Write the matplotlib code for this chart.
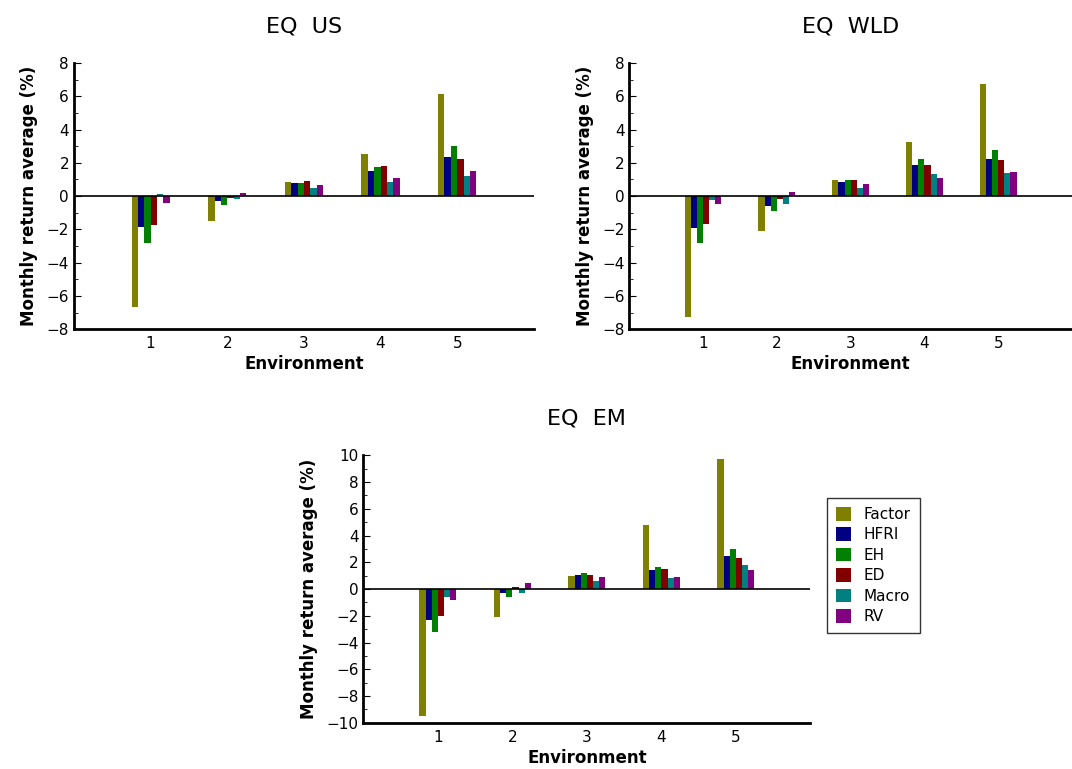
import matplotlib
matplotlib.use("Agg")
import matplotlib.pyplot as plt
import numpy as np

# Dados
ambientes = [1, 2, 3, 4, 5]
series = ["Factor", "HFRI", "EH", "ED", "Macro", "RV"]
cores = ["#808000", "#000080", "#008000", "#800000", "#008080", "#800080"]

us_factor = [-6.68, -1.52, 0.86, 2.54, 6.14]
us_hfri = [-1.88, -0.32, 0.78, 1.52, 2.34]
us_eh = [-2.84, -0.56, 0.80, 1.76, 3.02]
us_ed = [-1.76, -0.14, 0.92, 1.82, 2.24]
us_macro = [0.14, -0.16, 0.50, 0.82, 1.18]
us_rv = [-0.44, 0.20, 0.68, 1.06, 1.52]

wld_factor = [-7.28, -2.12, 0.94, 3.26, 6.76]
wld_hfri = [-1.94, -0.58, 0.86, 1.84, 2.24]
wld_eh = [-2.84, -0.92, 0.96, 2.22, 2.78]
wld_ed = [-1.70, -0.20, 0.94, 1.88, 2.16]
wld_macro = [-0.26, -0.48, 0.50, 1.32, 1.40]
wld_rv = [-0.48, 0.26, 0.74, 1.10, 1.46]

em_factor = [-9.47, -2.06, 0.98, 4.79, 9.70]
em_hfri = [-2.31, -0.33, 1.05, 1.43, 2.46]
em_eh = [-3.21, -0.60, 1.20, 1.65, 3.00]
em_ed = [-2.00, 0.18, 1.05, 1.50, 2.33]
em_macro = [-0.60, -0.28, 0.60, 0.85, 1.80]
em_rv = [-0.80, 0.45, 0.90, 0.90, 1.43]

paineis = [
    ("EQ  US", [us_factor, us_hfri, us_eh, us_ed, us_macro, us_rv], 8, [0.069, 0.572, 0.429, 0.346]),
    ("EQ  WLD", [wld_factor, wld_hfri, wld_eh, wld_ed, wld_macro, wld_rv], 8, [0.587, 0.572, 0.413, 0.346]),
    ("EQ  EM", [em_factor, em_hfri, em_eh, em_ed, em_macro, em_rv], 10, [0.339, 0.060, 0.417, 0.348]),
]

fig = plt.figure(figsize=(10.72, 7.69), dpi=100)
largura = 0.083
x = np.array(ambientes)

for titulo, valores, lim, pos in paineis:
    ax = fig.add_axes(pos)
    for i, (nome, vals) in enumerate(zip(series, valores)):
        ax.bar(x + (i - 2.5) * largura, vals, width=largura, color=cores[i],
               label=nome, zorder=2)
    ax.axhline(0, color="black", linewidth=1.2, zorder=3)
    ax.set_xlim(0, 6)
    ax.set_ylim(-lim, lim)
    ax.set_xticks(ambientes)
    ax.set_yticks(np.arange(-lim, lim + 1, 2))
    ax.set_yticks(np.arange(-lim, lim + 1, 1), minor=True)
    ax.tick_params(axis="x", length=0, labelsize=11, pad=5)
    ax.tick_params(axis="y", which="major", direction="in", length=5, labelsize=11)
    ax.tick_params(axis="y", which="minor", direction="in", length=3)
    for lado in ["top", "right"]:
        ax.spines[lado].set_visible(False)
    ax.spines["left"].set_linewidth(2)
    ax.spines["bottom"].set_linewidth(2)
    ax.set_xlabel("Environment", fontsize=12, fontweight="bold", labelpad=3)
    ax.set_ylabel("Monthly return average (%)", fontsize=12, fontweight="bold", labelpad=6)
    ax.set_title(titulo, fontsize=16, pad=22)
    if titulo == "EQ  EM":
        leg = ax.legend(loc="upper left", bbox_to_anchor=(1.02, 0.87), fontsize=11,
                        frameon=True, fancybox=False, edgecolor="black",
                        handlelength=1.0, handleheight=1.0, labelspacing=0.35,
                        borderpad=0.6)
        leg.get_frame().set_linewidth(1.0)

plt.savefig("out.png", dpi=100)
